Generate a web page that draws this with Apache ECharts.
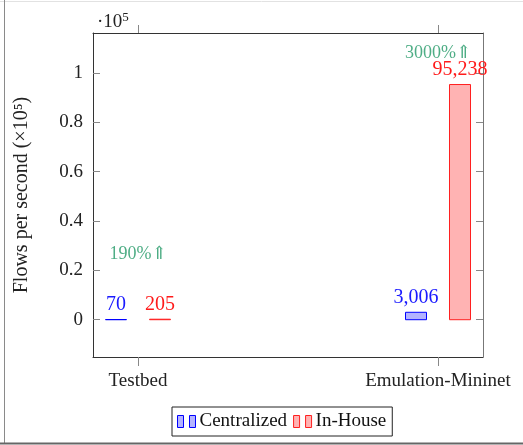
<!DOCTYPE html>
<html>
<head>
<meta charset="utf-8">
<script src="https://cdn.jsdelivr.net/npm/echarts@6/dist/echarts.min.js"></script>
<style>
  html, body { margin: 0; padding: 0; background: #fff; }
  #chart { width: 523px; height: 445px; }
</style>
</head>
<body>
<div id="chart"></div>
<script>
// Flow-setup throughput: centralized controller vs. in-house design
const categories = ['Testbed', 'Emulation-Mininet'];
const seriesNames = ['Centralized', 'In-House'];
const centralized = [70, 3006];
const inHouse = [205, 95238];
const gainLabels = ['190%\u21D1', '3000%\u21D1'];
const gainY = [0.263, 1.08];          // annotation heights, in units of 10^5
const yTicks = [0, 0.2, 0.4, 0.6, 0.8, 1];
const SCALE = 1e5;

const FONT = '"Liberation Serif", "DejaVu Serif", serif';
const fmt = v => v.toLocaleString('en-US');

const blue = { fill: '#b3b3ff', stroke: '#0000ff', text: '#1a1aff' };
const red  = { fill: '#ffb3b3', stroke: '#ff2020', text: '#ff1a1a' };

function barSeries(name, values, colors, offset) {
  return {
    name,
    type: 'custom',
    xAxisIndex: 0,
    yAxisIndex: 0,
    itemStyle: { color: colors.fill, borderColor: colors.stroke, borderWidth: 1 },
    data: values.map((v, i) => [i, v / SCALE, v]),
    renderItem: (params, api) => {
      const base = api.coord([api.value(0), 0]);
      const top = api.coord([api.value(0), api.value(1)]);
      const w = 21;
      const cx = base[0] + offset;
      return {
        type: 'rect',
        shape: { x: cx - w / 2, y: top[1], width: w, height: Math.max(base[1] - top[1], 0.01) },
        style: { fill: colors.fill, stroke: colors.stroke, lineWidth: 1 },
        textContent: {
          style: {
            text: fmt(api.value(2)),
            fill: colors.text,
            fontFamily: FONT,
            fontSize: 20
          }
        },
        textConfig: { position: 'top', distance: 4 }
      };
    }
  };
}

const barIcon = 'path://M0,0h6v12h-6z M12,0h6v12h-6z';

const chart = echarts.init(document.getElementById('chart'), null, { renderer: 'canvas' });

const frameLine = color => ({ show: true, onZero: false, lineStyle: { color, width: 1 } });
const yBase = { type: 'value', min: -0.151, max: 1.161, splitLine: { show: false } };
const xBase = { type: 'value', min: -0.15, max: 1.15, splitLine: { show: false } };

chart.setOption({
  animation: false,
  backgroundColor: '#fff',
  grid: { left: 93, right: 40, top: 33, bottom: 88, containLabel: false },
  title: {
    text: '{a|\u00B710}{s|5}',
    left: 92,
    top: 6,
    textStyle: {
      fontWeight: 'normal',
      rich: {
        a: { fontFamily: FONT, fontSize: 19, fontWeight: 'normal', color: '#222' },
        s: { fontFamily: FONT, fontSize: 13, fontWeight: 'normal', color: '#222', padding: [0, 0, 9, 0] }
      }
    }
  },
  xAxis: [
    Object.assign({}, xBase, {
      position: 'bottom',
      axisLine: frameLine('#333'),
      axisTick: { show: true, inside: false, length: 9, customValues: [0, 1], lineStyle: { color: '#888' } },
      axisLabel: {
        customValues: [0, 1],
        formatter: v => categories[Math.round(v)],
        fontFamily: FONT, fontSize: 19, color: '#222', margin: 15
      }
    }),
    Object.assign({}, xBase, {
      position: 'top',
      axisLine: frameLine('#333'),
      axisTick: { show: true, inside: false, length: 8, customValues: [0, 1], lineStyle: { color: '#888' } },
      axisLabel: { show: false }
    })
  ],
  yAxis: [
    Object.assign({}, yBase, {
      position: 'left',
      axisLine: frameLine('#333'),
      name: 'Flows per second (\u00D710\u2075)',
      nameLocation: 'middle',
      nameGap: 61,
      nameTextStyle: { fontFamily: FONT, fontSize: 20, color: '#222' },
      axisTick: { show: true, inside: true, length: 7, customValues: yTicks, lineStyle: { color: '#888' } },
      axisLabel: {
        customValues: yTicks,
        formatter: v => String(v),
        fontFamily: FONT, fontSize: 19, color: '#222', margin: 10
      }
    }),
    Object.assign({}, yBase, {
      position: 'right',
      axisLine: frameLine('#777'),
      axisTick: { show: true, inside: true, length: 7, customValues: yTicks, lineStyle: { color: '#888' } },
      axisLabel: { show: false }
    })
  ],
  legend: {
    left: 172,
    top: 407,
    orient: 'horizontal',
    padding: [5, 6, 5, 5],
    itemGap: 6,
    itemWidth: 18,
    itemHeight: 12,
    borderColor: '#222',
    borderWidth: 1,
    backgroundColor: '#fff',
    textStyle: { fontFamily: FONT, fontSize: 19, color: '#111', padding: [0, 0, 0, -1] },
    data: [
      { name: seriesNames[0], icon: barIcon, itemStyle: { color: blue.fill, borderColor: blue.stroke, borderWidth: 1 } },
      { name: seriesNames[1], icon: barIcon, itemStyle: { color: red.fill, borderColor: red.stroke, borderWidth: 1 } }
    ]
  },
  series: [
    barSeries(seriesNames[0], centralized, blue, -22),
    barSeries(seriesNames[1], inHouse, red, 22),
    {
      type: 'scatter',
      xAxisIndex: 0,
      yAxisIndex: 0,
      symbolSize: 0,
      silent: true,
      data: gainLabels.map((t, i) => [i, gainY[i], t]),
      label: {
        show: true,
        position: 'inside',
        formatter: p => p.value[2],
        fontFamily: FONT,
        fontSize: 18,
        color: '#229966'
      }
    }
  ],
  graphic: [
    { type: 'line', shape: { x1: 0, y1: 1.5, x2: 523, y2: 1.5 }, style: { stroke: '#e2e2e2', lineWidth: 1 } },
    { type: 'line', shape: { x1: 4.5, y1: 0, x2: 4.5, y2: 443 }, style: { stroke: '#8a8a8a', lineWidth: 1 } },
    { type: 'line', shape: { x1: 0, y1: 443.5, x2: 523, y2: 443.5 }, style: { stroke: '#666', lineWidth: 2 } }
  ]
});
</script>
</body>
</html>
